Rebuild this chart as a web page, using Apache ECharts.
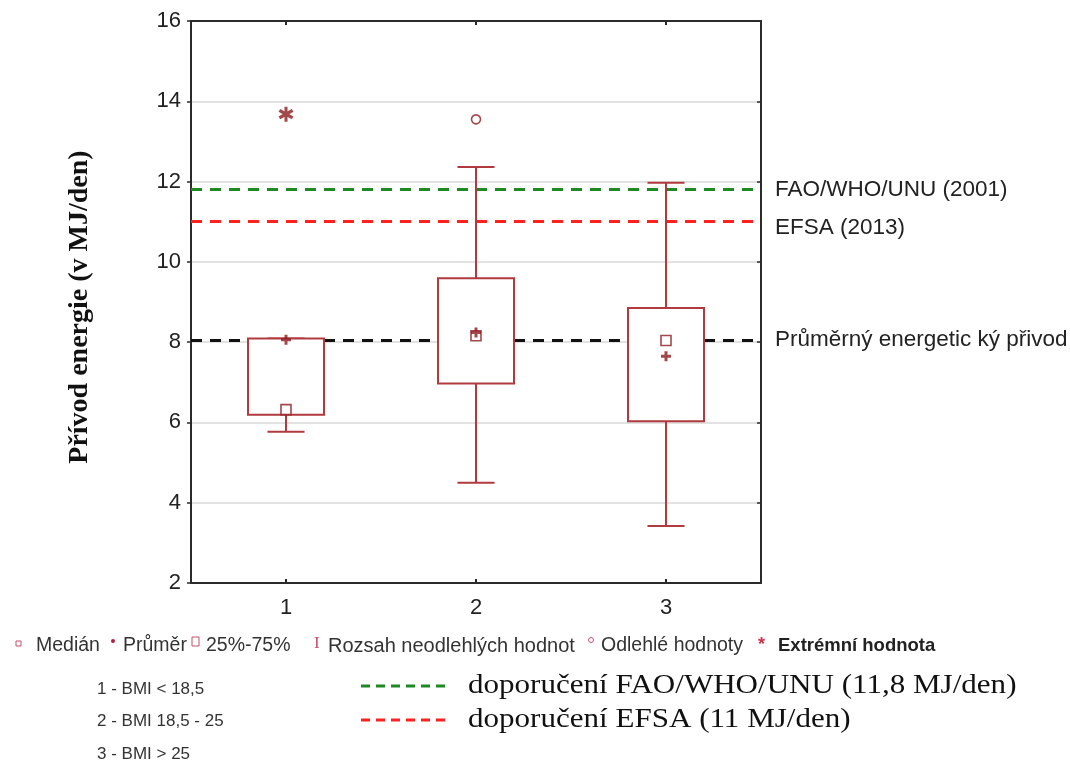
<!DOCTYPE html>
<html><head><meta charset="utf-8">
<script src="https://cdn.jsdelivr.net/npm/echarts@6/dist/echarts.min.js"></script>
<style>html,body{margin:0;padding:0;background:#fff}#c{width:1070px;height:781px}</style>
</head><body><div id="c"></div>
<script>
// ---- data ----
const categories = ['1', '2', '3'];
const q1 = [6.19, 6.97, 6.03];
const q3 = [8.09, 9.59, 8.85];
const whiskerLow = [5.77, 4.50, 3.42];
const whiskerHigh = [8.09, 12.36, 11.97];
const medians = [6.32, 8.16, 8.04];
const means = [8.06, 8.24, 7.65];
const outliers = [['2', 13.55]];
const extremes = [['1', 13.68]];
const refFAO = 11.8;
const refEFSA = 11.0;
const refAvg = 8.05;
const yMin = 2, yMax = 16, yStep = 2;
const refLabels = ['FAO/WHO/UNU (2001)', 'EFSA (2013)', 'Průměrný energetic ký přivod'];
const bmiLabels = ['1 - BMI < 18,5', '2 - BMI 18,5 - 25', '3 - BMI > 25'];
const recLabels = ['doporučení FAO/WHO/UNU (11,8 MJ/den)', 'doporučení EFSA (11 MJ/den)'];
const yTitle = 'Přívod energie (v MJ/den)';

// ---- style ----
const boxColor = '#b03a3e';
const markColor = '#8c1a1e';
const sans = 'Liberation Sans, Arial, sans-serif';
const serif = 'Liberation Serif, Times New Roman, serif';
const plusPath = 'path://M3.5,0H6.5V3.5H10V6.5H6.5V10H3.5V6.5H0V3.5H3.5Z';
const starPath = 'path://M8,0H12V20H8Z M17.6,3.2L20.0,6.8L2.4,16.8L0.0,13.2Z M2.4,3.2L20.0,13.2L17.6,16.8L0.0,6.8Z';

const chart = echarts.init(document.getElementById('c'));

const boxData = categories.map((c, i) => [i, q1[i], q3[i], whiskerLow[i], whiskerHigh[i]]);

const axisLineStyle = { color: '#2b2b2b', width: 2 };

const option = {
  backgroundColor: '#fff',
  animation: false,
  grid: { left: 191, right: 309, top: 21, bottom: 198, containLabel: false },
  xAxis: [
    {
      type: 'category', data: categories, position: 'bottom',
      axisLine: { show: true, lineStyle: axisLineStyle },
      axisTick: { show: true, inside: true, alignWithLabel: true, length: 4, lineStyle: { color: '#2b2b2b', width: 2 } },
      axisLabel: { fontFamily: sans, fontSize: 22, color: '#222', margin: 14 },
      splitLine: { show: false }
    },
    {
      type: 'category', data: categories, position: 'top',
      axisLine: { show: true, lineStyle: axisLineStyle },
      axisTick: { show: true, inside: true, alignWithLabel: true, length: 4, lineStyle: { color: '#2b2b2b', width: 2 } },
      axisLabel: { show: false }, splitLine: { show: false }
    }
  ],
  yAxis: [
    {
      type: 'value', min: yMin, max: yMax, interval: yStep, position: 'left',
      axisLine: { show: true, lineStyle: axisLineStyle },
      axisTick: { show: true, inside: false, length: 4, lineStyle: { color: '#2b2b2b', width: 1.5 } },
      axisLabel: { fontFamily: sans, fontSize: 22, color: '#222', margin: 10 },
      splitLine: { show: true, lineStyle: { color: '#d9d9d9', width: 1.5 } }
    },
    {
      type: 'value', min: yMin, max: yMax, interval: yStep, position: 'right',
      axisLine: { show: true, lineStyle: axisLineStyle },
      axisTick: { show: true, inside: true, length: 4, lineStyle: { color: '#2b2b2b', width: 1.5 } },
      axisLabel: { show: false }, splitLine: { show: false }
    }
  ],
  series: [
    {
      type: 'line', data: [], z: 2, silent: true,
      markLine: {
        symbol: 'none', silent: true, animation: false,
        label: { show: true, position: 'end', distance: 14, fontFamily: sans, fontSize: 22.5, color: '#222' },
        data: [
          { yAxis: refFAO, lineStyle: { color: '#1f8a24', type: [11, 8], width: 3 }, label: { formatter: refLabels[0] } },
          { yAxis: refEFSA, lineStyle: { color: '#ff2020', type: [11, 8], width: 3 }, label: { formatter: refLabels[1], offset: [0, 6] } },
          { yAxis: refAvg, lineStyle: { color: '#111', type: [11, 8], width: 3 }, label: { formatter: refLabels[2] } }
        ]
      }
    },
    {
      type: 'custom', z: 5, data: boxData,
      renderItem: function (params, api) {
        const i = api.value(0);
        const band = api.size([1, 0])[0];
        const pQ1 = api.coord([i, api.value(1)]);
        const pQ3 = api.coord([i, api.value(2)]);
        const pLo = api.coord([i, api.value(3)]);
        const pHi = api.coord([i, api.value(4)]);
        const x = pQ1[0];
        const bw = band * 0.4, cw = band * 0.195;
        const ls = { stroke: boxColor, lineWidth: 2 };
        return {
          type: 'group', children: [
            { type: 'line', shape: { x1: x, y1: pQ3[1], x2: x, y2: pHi[1] }, style: ls },
            { type: 'line', shape: { x1: x - cw / 2, y1: pHi[1], x2: x + cw / 2, y2: pHi[1] }, style: ls },
            { type: 'line', shape: { x1: x, y1: pQ1[1], x2: x, y2: pLo[1] }, style: ls },
            { type: 'line', shape: { x1: x - cw / 2, y1: pLo[1], x2: x + cw / 2, y2: pLo[1] }, style: ls },
            { type: 'rect', shape: { x: x - bw / 2, y: pQ3[1], width: bw, height: pQ1[1] - pQ3[1] }, style: { fill: '#fff', stroke: boxColor, lineWidth: 2 } }
          ]
        };
      }
    },
    {
      type: 'scatter', z: 6, data: categories.map((c, i) => [c, medians[i]]),
      symbol: 'rect', symbolSize: 10,
      itemStyle: { color: '#fff', borderColor: markColor, borderWidth: 1.6 }
    },
    {
      type: 'scatter', z: 7, data: categories.map((c, i) => [c, means[i]]),
      symbol: plusPath, symbolSize: 10,
      itemStyle: { color: markColor }
    },
    {
      type: 'scatter', z: 6, data: outliers,
      symbol: 'circle', symbolSize: 9,
      itemStyle: { color: '#fff', borderColor: markColor, borderWidth: 1.6 }
    },
    {
      type: 'scatter', z: 6, data: extremes,
      symbol: starPath, symbolSize: 15,
      itemStyle: { color: markColor }
    }
  ],
  graphic: [
    {
      type: 'text', x: 80, y: 307, rotation: Math.PI / 2,
      style: { text: yTitle, fontFamily: serif, fontWeight: 'bold', fontSize: 28, fill: '#111', align: 'center', verticalAlign: 'middle' }
    },
    // legend line 1
    { type: 'rect', shape: { x: 16, y: 641, width: 5, height: 5 }, style: { fill: '#fff', stroke: '#c8506a', lineWidth: 1 } },
    { type: 'text', x: 36, y: 646, style: { text: 'Medián', fontFamily: sans, fontSize: 19.5, fill: '#333', verticalAlign: 'middle' } },
    { type: 'circle', shape: { cx: 113, cy: 641, r: 2 }, style: { fill: '#b02040' } },
    { type: 'text', x: 123, y: 646, style: { text: 'Průměr', fontFamily: sans, fontSize: 19.5, fill: '#333', verticalAlign: 'middle' } },
    { type: 'rect', shape: { x: 192, y: 637, width: 7, height: 9 }, style: { fill: '#fff', stroke: '#c8506a', lineWidth: 1 } },
    { type: 'text', x: 206, y: 646, style: { text: '25%-75%', fontFamily: sans, fontSize: 19.5, fill: '#333', verticalAlign: 'middle' } },
    { type: 'text', x: 314, y: 644, style: { text: 'I', fontFamily: serif, fontSize: 17, fill: '#c8506a', verticalAlign: 'middle' } },
    { type: 'text', x: 328, y: 646, style: { text: 'Rozsah neodlehlých hodnot', fontFamily: sans, fontSize: 20, fill: '#333', verticalAlign: 'middle' } },
    { type: 'circle', shape: { cx: 591, cy: 640, r: 2.5 }, style: { fill: '#fff', stroke: '#c8506a', lineWidth: 1 } },
    { type: 'text', x: 601, y: 646, style: { text: 'Odlehlé hodnoty', fontFamily: sans, fontSize: 19.5, fill: '#333', verticalAlign: 'middle' } },
    { type: 'text', x: 758, y: 645, style: { text: '*', fontFamily: sans, fontSize: 18, fontWeight: 'bold', fill: '#d0304a', verticalAlign: 'middle' } },
    { type: 'text', x: 778, y: 646, style: { text: 'Extrémní hodnota', fontFamily: sans, fontSize: 18.5, fontWeight: 'bold', fill: '#222', verticalAlign: 'middle' } },
    // BMI labels
    { type: 'text', x: 97, y: 689, style: { text: bmiLabels[0], fontFamily: sans, fontSize: 17, fill: '#333', verticalAlign: 'middle' } },
    { type: 'text', x: 97, y: 721, style: { text: bmiLabels[1], fontFamily: sans, fontSize: 17, fill: '#333', verticalAlign: 'middle' } },
    { type: 'text', x: 97, y: 754, style: { text: bmiLabels[2], fontFamily: sans, fontSize: 17, fill: '#333', verticalAlign: 'middle' } },
    // recommendation legend
    { type: 'line', shape: { x1: 361, y1: 686, x2: 446, y2: 686 }, style: { stroke: '#1f8a24', lineWidth: 3, lineDash: [9, 6] } },
    { type: 'line', shape: { x1: 361, y1: 720, x2: 446, y2: 720 }, style: { stroke: '#ff2020', lineWidth: 3, lineDash: [9, 6] } },
    { type: 'text', x: 468, y: 686, scaleX: 1.15, style: { text: recLabels[0], fontFamily: serif, fontSize: 27, fill: '#111', verticalAlign: 'middle' } },
    { type: 'text', x: 468, y: 720, scaleX: 1.15, style: { text: recLabels[1], fontFamily: serif, fontSize: 27, fill: '#111', verticalAlign: 'middle' } }
  ]
};
chart.setOption(option);
</script>
</body></html>
